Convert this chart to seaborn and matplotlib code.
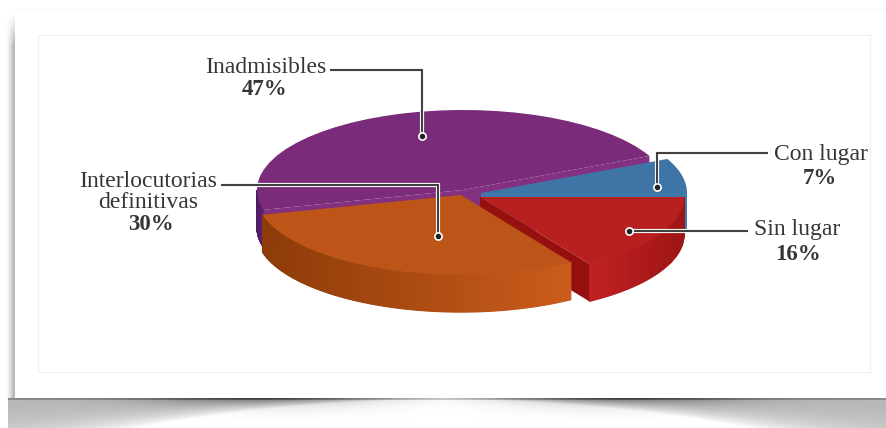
import numpy as np
import matplotlib
matplotlib.use("Agg")
import matplotlib.pyplot as plt
import matplotlib.patheffects as pe
from matplotlib.colors import to_rgb
from matplotlib.patches import Polygon, Rectangle
import seaborn as sns

# ---- data ----
categories = ["Con lugar", "Inadmisibles", "Interlocutorias\ndefinitivas", "Sin lugar"]
values = [7, 47, 30, 16]
percent_labels = ["7%", "47%", "30%", "16%"]

# ---- style / layout ----
W, H = 886, 428
K = 80 / 206          # vertical squash of the pie plane
DEPTH = 37.5 / K
TOP = ["#3F74A6", "#7A2C7A", "#BE5518", "#B82020"]
CUT = ["#4079AC", "#82307F", "#8F3D0A", "#96100F"]
WALL_L = ["#3F74A6", "#4E1A66", "#8C3B08", "#C22022"]
WALL_R = ["#4A7EB0", "#5A1F70", "#CB5C1C", "#9E1616"]
CENTERS = [(481, 193), (463, 190), (461, 195), (480, 197)]
RADII = [206, 206, 205, 204]
ORDER = [1, 0, 3, 2]
TEXT = "#363636"

sns.set_theme(style="white")
plt.rcParams["font.family"] = ["Liberation Serif", "DejaVu Serif"]


def P(x, y):
    return x, (H - y) / K


fig = plt.figure(figsize=(W / 100, H / 100), dpi=100, facecolor="white")
ax = fig.add_axes([0, 0, 1, 1])

wedges, _ = ax.pie(values, startangle=0, counterclock=True, radius=1,
                   colors=TOP, wedgeprops=dict(linewidth=0))

# ---- page background: side shadow and curled bottom shadow ----
yy, xx = np.mgrid[0:H, 0:W]
bg = np.ones((H, W))
u = np.abs(xx + 0.5 - W / 2) / (W / 2)
below = yy >= 398
b = 399 + 60 * u ** 2
s = np.clip((yy - 398) / (b - 398), 0, 1)
fill = 0.28 * np.clip(u / 0.6, 0, 1) ** 0.8 * (1 - s ** 2)
dark = 0.36 * np.exp(-((u - 0.38) / 0.26) ** 2) * np.exp(-(yy - 398) / 6.0)
bg[below] = np.clip(1 - fill[below] - dark[below] - 0.18 * (yy[below] < 399.5), 0, 1)
bg[below & (xx < 8)] = 1
side = (xx >= 5) & (xx < 15) & (yy < 398)
side_ramp = np.clip((xx - 5) / 8, 0, 1) ** 1.5 * np.clip((yy - 12) / 35, 0, 1)
bg[side] = 1 - 0.28 * side_ramp[side]
mask = (yy >= 8) & (yy < 11) & (xx >= 12)
bg[mask] = np.minimum(bg[mask], 0.985)
ax.imshow(bg, cmap="gray", vmin=0, vmax=1, aspect="auto", zorder=0,
          extent=(0, W, 0, H / K), origin="upper", interpolation="bilinear")
ax.add_patch(Rectangle(P(38, 372), 832, 337 / K, fc="white", ec="#efefef", lw=0.8, zorder=1))

ax.set_aspect("auto")
ax.set_xlim(0, W)
ax.set_ylim(0, H / K)
ax.axis("off")


def wall(i, zo):
    w = wedges[i]
    cx, cy = w.center
    r = w.r
    a0, a1 = w.theta1, w.theta2
    # curved outer wall, only the part facing the viewer
    lo, hi = max(a0, 180), min(a1, 360)
    if hi > lo:
        angs = np.radians(np.linspace(lo, hi, 90))
        xs = cx + r * np.cos(angs)
        ys = cy + r * np.sin(angs)
        xmin, xmax = xs.min(), xs.max()
        c0, c1 = np.array(to_rgb(WALL_L[i])), np.array(to_rgb(WALL_R[i]))
        for j in range(len(angs) - 1):
            t = ((xs[j] + xs[j + 1]) / 2 - xmin) / max(xmax - xmin, 1)
            col = c0 + (c1 - c0) * t
            ax.add_patch(Polygon(
                [(xs[j], ys[j]), (xs[j + 1], ys[j + 1]),
                 (xs[j + 1], ys[j + 1] - DEPTH), (xs[j], ys[j] - DEPTH)],
                closed=True, fc=col, ec=col, lw=0.8, zorder=zo))
    # flat cut faces, only those turned towards the viewer
    for a, normal in ((a0, a0 - 90), (a1, a1 + 90)):
        if np.sin(np.radians(normal)) >= 0:
            continue
        ra = np.radians(a)
        ex, ey = cx + r * np.cos(ra), cy + r * np.sin(ra)
        ax.add_patch(Polygon([(cx, cy), (ex, ey), (ex, ey - DEPTH), (cx, cy - DEPTH)],
                             closed=True, fc=CUT[i], ec="none", zorder=zo))


for n, i in enumerate(ORDER):
    wedges[i].set_center(P(*CENTERS[i]))
    wedges[i].set_radius(RADII[i])
    wedges[i].set_zorder(5 + 2 * n + 1)
    wall(i, 5 + 2 * n)


def text(x, y, s, **kw):
    px, py = P(x, y)
    ax.text(px, py, s, ha="center", va="center", color=TEXT, zorder=30, **kw)


# ---- leader lines ----
halo = [pe.Stroke(linewidth=3.0, foreground="#f4f4f4"), pe.Normal()]
leaders = [
    [(768, 153), (657, 153), (657, 187)],
    [(330, 70), (422, 70), (422, 136)],
    [(221, 185), (438, 185), (438, 236)],
    [(748, 231), (629, 231)],
]
for pts in leaders:
    xs, ys = zip(*[P(*p) for p in pts])
    ax.plot(xs, ys, color="#2e2e2e", lw=1.3, zorder=20, path_effects=halo,
            solid_joinstyle="miter", solid_capstyle="butt")
    ax.plot(xs[-1], ys[-1], "o", ms=5.2, mfc="#222222", mec="white", mew=1.2, zorder=21)

# ---- labels ----
FS = 17
label_pos = [(821, 155), (266, 68), (148, 192), (797, 230)]
pct_pos = [(820, 179), (265, 90), (151, 225), (798, 254)]
for c, p, lp, pp in zip(categories, percent_labels, label_pos, pct_pos):
    text(*lp, c, fontsize=FS, linespacing=0.95)
    text(*pp, p, fontsize=FS - 0.5, fontweight="bold")

fig.savefig("out.png", dpi=100, facecolor="white")
